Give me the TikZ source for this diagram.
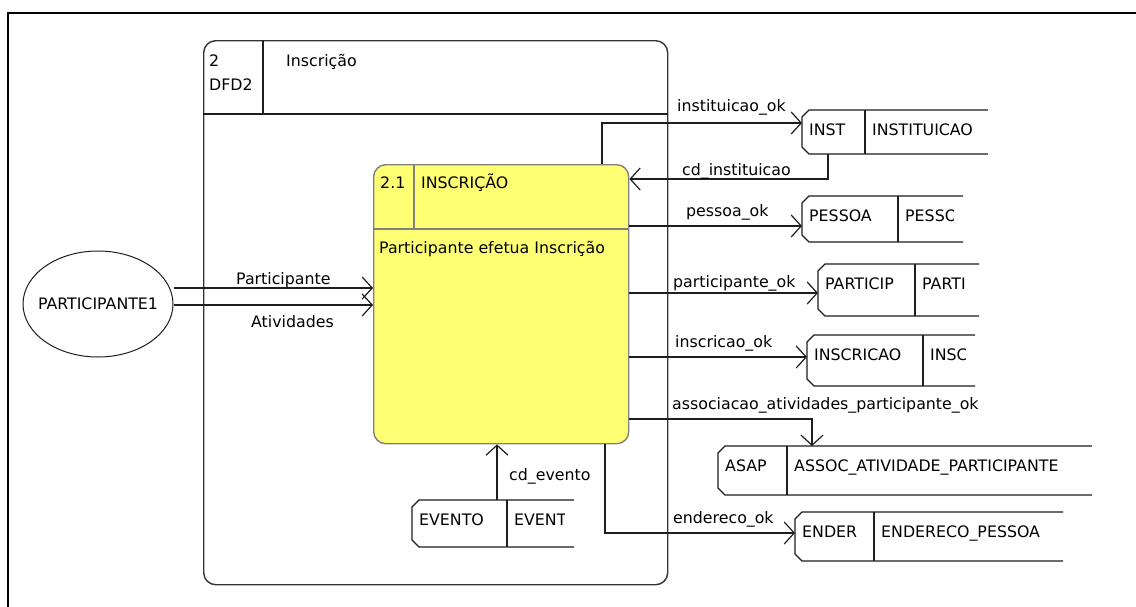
\documentclass[tikz,border=0pt]{standalone}
\usepackage{fontspec}
\setmainfont{DejaVu Sans}
\usetikzlibrary{arrows.meta,calc,shapes.geometric}
\definecolor{procyellow}{RGB}{255,255,115}
\definecolor{procgray}{RGB}{128,128,128}
\definecolor{ink}{RGB}{30,30,30}
\newcommand\dfdstore[8]{%
  \node[inner sep=0pt, outer sep=0pt, minimum width=#4pt, minimum height=#5pt, anchor=north west] (#1) at (#2,#3) {};
  \draw[storeline] (#1.north east) -- ($(#1.north west)+(7,0)$) -- ($(#1.north west)+(0,7)$) -- ($(#1.south west)+(0,-7)$) -- ($(#1.south west)+(7,0)$) -- (#1.south east);
  \draw[storeline] ($(#1.north west)+(#6,0)$) -- ($(#1.south west)+(#6,0)$);
  \node[txt] (#1-id) at ($(#1.north west)+(7,25)$) {#7};
  \begin{scope}
    \clip ($(#1.north west)+(#6,0)$) rectangle ($(#1.south east)+(-10,0)$);
    \node[txt] (#1-name) at ($(#1.north west)+(#6+7,25)$) {#8};
  \end{scope}
}
\begin{document}
\begin{tikzpicture}[x=1pt,y=-1pt,
  txt/.style={inner sep=0pt, anchor=base west, font=\fontsize{15.8}{18}\selectfont, text=black},
  flow/.style={line width=1.3pt, draw=ink, -{Straight Barb[length=10pt,width=22pt,line width=1.2pt]}},
  plain/.style={line width=1.3pt, draw=ink},
  storeline/.style={line width=1.3pt, draw=ink},
]
\useasboundingbox (0,0) rectangle (1136,606);
\fill[white] (0,0) rectangle (1136,606);
% outer frame
\draw[line width=2.2pt, black] (8.3,607) -- (8.3,13) -- (1137,13);

% outer process 2
\node[draw=black!80, line width=1.4pt, rounded corners=12pt, minimum width=464pt, minimum height=544pt, anchor=north west, inner sep=0pt] (n2) at (203,40) {};
\draw[plain] (n2.west |- 0,114) -- (n2.east |- 0,114);
\draw[plain] (263,0 |- n2.north) -- (263,114);
\node[txt] (n2id) at (209,66) {2};
\node[txt] (n2ref) at (209,90) {DFD2};
\node[txt] (n2name) at (286,66) {Inscrição};

% process 2.1
\node[draw=procgray, fill=procyellow, line width=1.4pt, rounded corners=12pt, minimum width=255pt, minimum height=279pt, anchor=north west, inner sep=0pt] (p21) at (373,164) {};
\draw[procgray, line width=1.2pt] (p21.west |- 0,229) -- (p21.east |- 0,229);
\draw[procgray, line width=1.2pt] (414,0 |- p21.north) -- (414,229);
\node[txt] (p21id) at (380,188) {2.1};
\node[txt] (p21name) at (421,188) {INSCRIÇÃO};
\node[txt] (p21desc) at (379,253) {Participante efetua Inscrição};

% external entity
\node[draw=ink, ellipse, line width=1pt, minimum width=150pt, minimum height=106pt, inner sep=0pt] (ext) at (98,304) {};
\node[txt, anchor=center] (extlabel) at (ext.center) {PARTICIPANTE1};

% data stores
\dfdstore{inst}{802}{110}{186}{44}{63}{INST}{INSTITUICAO}
\dfdstore{pessoa}{802}{196}{161}{46}{96}{PESSOA}{PESSO}
\dfdstore{particip}{818}{264}{161}{52}{97}{PARTICIP}{PARTI}
\dfdstore{inscricao}{807}{335}{168}{51}{116}{INSCRICAO}{INSC}
\dfdstore{asap}{718}{446}{374}{49}{69}{ASAP}{ASSOC\_ATIVIDADE\_PARTICIPANTE}
\dfdstore{ender}{795}{512}{268}{49}{79}{ENDER}{ENDERECO\_PESSOA}
\dfdstore{evento}{412}{500}{162}{47}{95}{EVENTO}{EVENT}

% flows
\draw[flow] (ext.east |- 0,288) -- (p21.west |- 0,288);
\draw[flow] (ext.east |- 0,305) -- (p21.west |- 0,305);
\draw[flow] (p21.north -| 602,0) |- (inst.west |- 0,123);
\draw[flow] (inst.south -| 828,0) |- (p21.east |- 0,179);
\draw[flow] (p21.east |- 0,226) -- (pessoa.west |- 0,226);
\draw[flow] (p21.east |- 0,293) -- (particip.west |- 0,293);
\draw[flow] (p21.east |- 0,357) -- (inscricao.west |- 0,357);
\draw[flow] (p21.east |- 0,419) -| (asap.north -| 812,0);
\draw[flow] (p21.south -| 605,0) |- (ender.west |- 0,533);
\draw[flow] (evento.north -| 497,0) -- (p21.south -| 497,0);

% flow labels
\node[txt] (lpart) at (236,284) {Participante};
\node[txt] (lativ) at (251,327) {Atividades};
\node[txt] (linst) at (677,111) {instituicao\_ok};
\node[txt] (lcdinst) at (682,175) {cd\_instituicao};
\node[txt] (lpess) at (686,216) {pessoa\_ok};
\node[txt] (lparticip) at (673,287) {participante\_ok};
\node[txt] (linsc) at (675,347) {inscricao\_ok};
\node[txt] (lasap) at (672,409) {associacao\_atividades\_participante\_ok};
\node[txt] (lender) at (673,523) {endereco\_ok};
\node[txt] (levento) at (509,480) {cd\_evento};
\end{tikzpicture}
\end{document}
